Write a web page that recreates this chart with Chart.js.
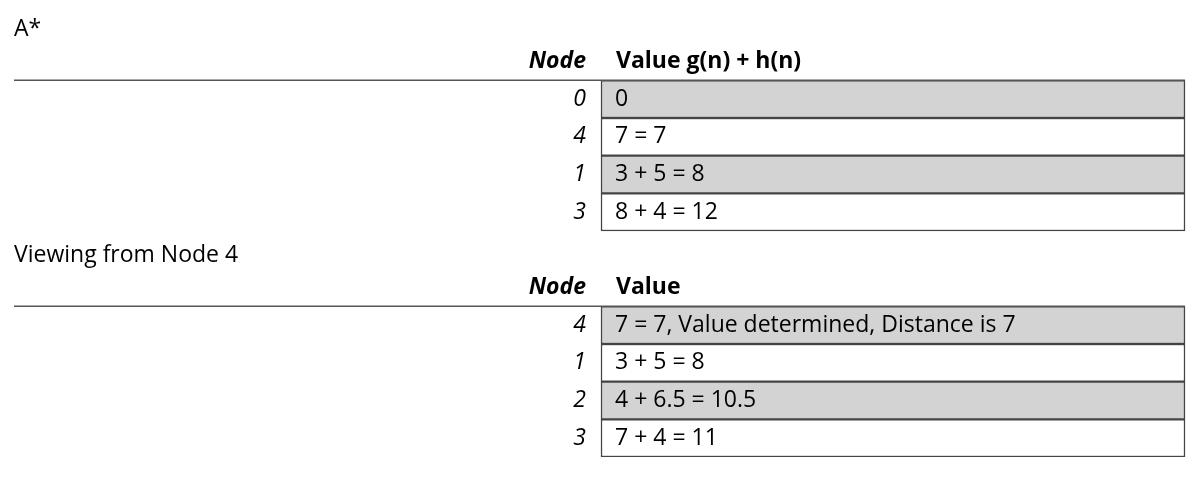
<!DOCTYPE html><html><head><style>html,body{margin:0;background:#fff}#w{width:1200px;height:485px}</style>
<script src="https://cdn.jsdelivr.net/npm/chart.js@4"></script></head><body><div id="w"><canvas id="c"></canvas></div>
<script>
const rowKeys=["t1","h1","a0","a4","a1","a3","t2","h2","b4","b1","b2","b3"];
const titles={t1:"A*",t2:"Viewing from Node 4"};
const headers={h1:["Node","Value g(n) + h(n)"],h2:["Node","Value"]};
const nodes={a0:"0",a4:"4",a1:"1",a3:"3",b4:"4",b1:"1",b2:"2",b3:"3"};
const values={a0:"0",a4:"7 = 7",a1:"3 + 5 = 8",a3:"8 + 4 = 12",b4:"7 = 7, Value determined, Distance is 7",b1:"3 + 5 = 8",b2:"4 + 6.5 = 10.5",b3:"7 + 4 = 11"};
const shaded={a0:true,a4:false,a1:true,a3:false,b4:true,b1:false,b2:true,b3:false};
const cellX=[601,1185];
const data=rowKeys.map(k=>values[k]!==undefined?cellX:null);
const bg=rowKeys.map(k=>shaded[k]?'#d3d3d3':'#ffffff');
const F='"Open Sans","Liberation Sans",sans-serif';
const tablePlugin={id:'tbl',afterDatasetsDraw(ch){
 const c=ch.ctx,x=ch.scales.x,y=ch.scales.y;c.save();c.fillStyle='#000';c.textBaseline='middle';
 const slot=y.getPixelForValue(1)-y.getPixelForValue(0);
 rowKeys.forEach((k,i)=>{const yc=y.getPixelForValue(i);
  if(titles[k]){c.font='23px '+F;c.textAlign='left';c.fillText(titles[k],x.getPixelForValue(14),yc+slot*0.15);}
  if(headers[k]){c.font='italic bold 23px '+F;c.textAlign='right';c.fillText(headers[k][0],x.getPixelForValue(586),yc);
   c.font='bold 23px '+F;c.textAlign='left';c.fillText(headers[k][1],x.getPixelForValue(616),yc);
   const yb=yc+slot/2;c.strokeStyle='#555';c.lineWidth=1.5;c.beginPath();c.moveTo(x.getPixelForValue(14),yb);c.lineTo(x.getPixelForValue(1185),yb);c.stroke();}
  if(nodes[k]){c.font='italic 23px '+F;c.textAlign='right';c.fillText(nodes[k],x.getPixelForValue(586),yc);
   c.font='23px '+F;c.textAlign='left';c.fillText(values[k],x.getPixelForValue(615),yc);}
 });c.restore();}};
new Chart(document.getElementById('c'),{type:'bar',data:{labels:rowKeys,datasets:[{data,backgroundColor:bg,borderColor:'#444',borderWidth:1.5,borderSkipped:false,barPercentage:1,categoryPercentage:1}]},
options:{indexAxis:'y',responsive:true,maintainAspectRatio:false,animation:false,layout:{padding:{top:5,bottom:28,left:0,right:0}},
plugins:{legend:{display:false},tooltip:{enabled:false}},
scales:{x:{type:'linear',min:0,max:1200,display:false},y:{display:false}}},plugins:[tablePlugin]});
</script></body></html>
